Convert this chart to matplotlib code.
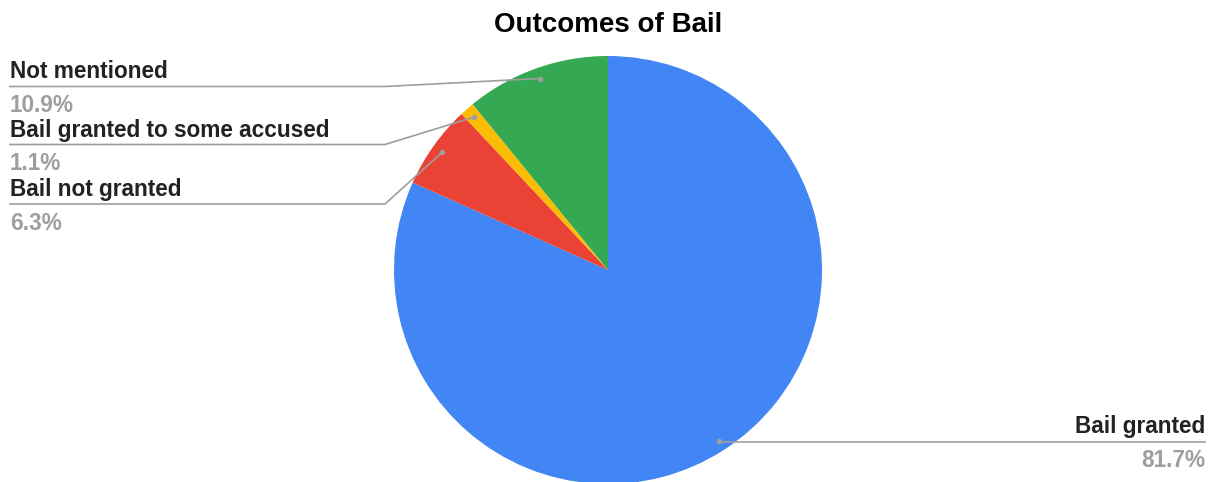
import matplotlib.pyplot as plt
import numpy as np

plt.rcParams['font.family'] = ['Liberation Sans', 'DejaVu Sans']

labels = ["Bail granted", "Bail not granted", "Bail granted to some accused", "Not mentioned"]
values = [81.7, 6.3, 1.1, 10.9]
colors = ["#4285F4", "#EA4335", "#FBBC04", "#34A853"]

W, H = 1212, 482
fig = plt.figure(figsize=(W / 100, H / 100), dpi=100)
ax = fig.add_axes([0, 0, 1, 1])

cx, cy, r = 608, H - 270, 214
wedges, _ = ax.pie(values, colors=colors, startangle=90, counterclock=False,
                   center=(cx, cy), radius=r, frame=True,
                   wedgeprops=dict(linewidth=0))
ax.set_xlim(0, W)
ax.set_ylim(0, H)
ax.set_aspect('equal')
ax.axis('off')

grey = "#9e9e9e"
# label layout: (line y in px from top, side)
layout = {0: (441.5, 'right'), 1: (204, 'left'), 2: (144.5, 'left'), 3: (86.5, 'left')}
fs = 16.3

for i, w in enumerate(wedges):
    ang = np.deg2rad((w.theta1 + w.theta2) / 2)
    dx = cx + 0.95 * r * np.cos(ang)
    dy = cy + 0.95 * r * np.sin(ang)
    ly, side = layout[i]
    ly = H - ly
    ax.plot(dx, dy, 'o', color=grey, ms=4, mec='none', zorder=5)
    if side == 'right':
        ax.plot([dx, 1205], [ly, ly], color=grey, lw=1.2, zorder=4)
        tx, ha = 1205, 'right'
    else:
        ax.plot([dx, 385, 10], [dy, ly, ly], color=grey, lw=1.2, zorder=4)
        tx, ha = 10, 'left'
    ax.text(tx, ly + 8, labels[i], ha=ha, va='baseline', fontsize=fs,
            fontweight='bold', color='#222222')
    ax.text(tx, ly - 7.5, f"{values[i]:.1f}%", ha=ha, va='top', fontsize=fs,
            fontweight='bold', color=grey)

fig.text(cx / W, 1 - 25 / H, "Outcomes of Bail", ha='center', va='center',
         fontsize=20, fontweight='bold', color='#000000')

fig.savefig("out.png", dpi=100)
